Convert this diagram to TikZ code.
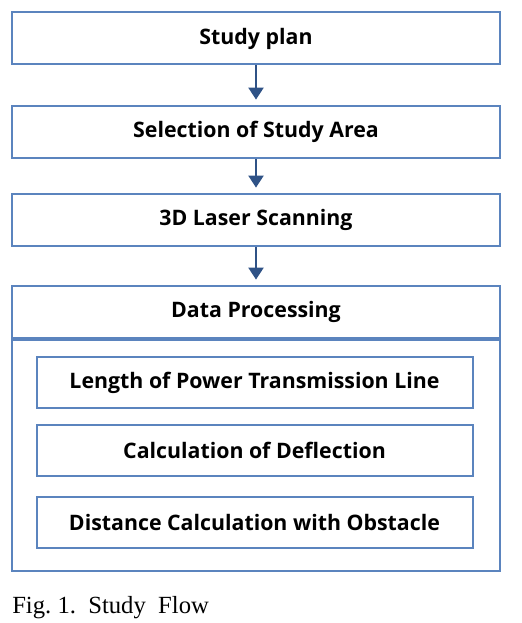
\documentclass[tikz,border=0pt]{standalone}
\usepackage{fontspec}
\setmainfont{Liberation Serif}
\newfontfamily\boxfont{Open Sans}
\usepackage{tikz}
\usetikzlibrary{arrows.meta, positioning}

\definecolor{boxblue}{HTML}{5B84BE}
\definecolor{arrowblue}{HTML}{2F5286}

\begin{document}
\begin{tikzpicture}[x=0.75pt, y=-0.75pt,
    stage/.style={rectangle, draw=boxblue, line width=1.5pt, minimum width=366pt, minimum height=39pt, align=center, font=\boxfont\bfseries\fontsize{16}{19}\selectfont},
    task/.style={stage, minimum width=327pt, minimum height=38pt},
    flow/.style={-{Triangle[length=9pt, width=11pt]}, line width=2.2pt, draw=arrowblue, shorten >=4pt}
]

\useasboundingbox (0,0) rectangle (521,623);

% Main steps
\node[stage] (plan) at (256, 38.5) {Study plan};
\node[stage] (area) at (256, 132) {Selection of Study Area};
\node[stage] (scan) at (256, 220) {3D Laser Scanning};
\node[stage] (data) at (256, 312) {Data Processing};
\node[stage, minimum height=173pt, anchor=north] (detail) at (data.south) {};

% Processing tasks
\node[task] (length) at (254.5, 382.5) {Length of Power Transmission Line};
\node[task] (deflect) at (254.5, 450.5) {Calculation of Deflection};
\node[task] (obstacle) at (254.5, 522.5) {Distance Calculation with Obstacle};

% Arrows
\draw[flow] (plan) -- (area);
\draw[flow] (area) -- (scan);
\draw[flow] (scan) -- (data);

% Caption
\node[anchor=base west, inner sep=0pt, font=\fontsize{18.5}{20}\selectfont] (caption) at (12, 613) {Fig.~1.~~Study~~Flow};

\end{tikzpicture}
\end{document}
